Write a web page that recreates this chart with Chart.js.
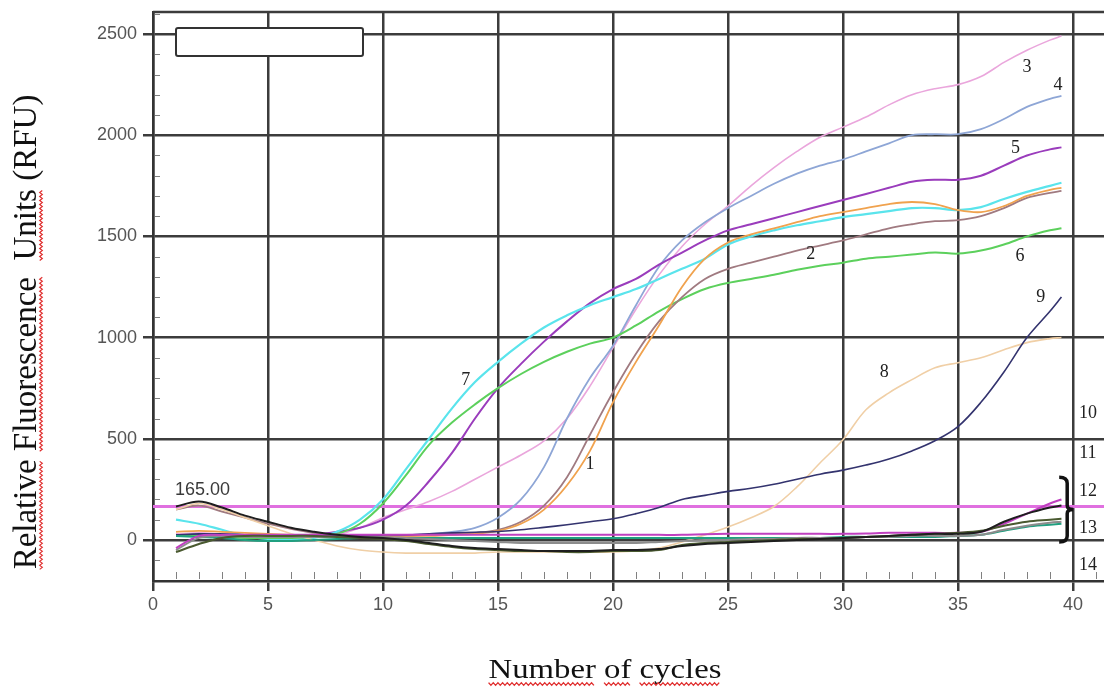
<!DOCTYPE html>
<html lang="en">
<head>
  <meta charset="UTF-8" />
  <title>Amplification curves (RFU vs cycles)</title>
  <script src="https://cdn.jsdelivr.net/npm/chart.js"></script>
  <style>
    body {
      margin: 0;
      background-color: #fff;
    }
    canvas#myChart {
      display: block;
    }
  </style>
</head>
<body>
  <canvas id="myChart" width="1104" height="691"></canvas>

  <script>
    // cycle numbers (x values), last reading ends a bit before 40
    const cycles = [1, 2, 3, 4, 5, 6, 7, 8, 9, 10, 11, 12, 13, 14, 15, 16, 17, 18, 19, 20,
      21, 22, 23, 24, 25, 26, 27, 28, 29, 30, 31, 32, 33, 34, 35, 36, 37, 38, 39, 39.5];

    // RFU, one array per curve
    const curve1 = [40, 45, 40, 35, 30, 25, 20, 20, 20, 20, 20, 20, 25, 30, 45, 80, 150, 270, 440, 680,
      880, 1060, 1250, 1390, 1470, 1510, 1540, 1570, 1600, 1620, 1640, 1660, 1670, 1660, 1630, 1620, 1650, 1700, 1730, 1740];
    const curve2 = [150, 170, 140, 110, 80, 55, 35, 25, 20, 20, 20, 25, 30, 35, 50, 90, 170, 310, 520, 730,
      920, 1080, 1200, 1290, 1340, 1370, 1400, 1430, 1455, 1480, 1510, 1540, 1560, 1575, 1580, 1600, 1640, 1690, 1715, 1725];
    const curve3 = [30, 35, 30, 25, 20, 20, 20, 25, 60, 110, 150, 190, 240, 300, 360, 420, 490, 600, 760, 950,
      1140, 1310, 1450, 1560, 1650, 1750, 1840, 1920, 1990, 2040, 2090, 2150, 2200, 2230, 2250, 2290, 2360, 2420, 2470, 2490];
    const curve4 = [20, 25, 25, 20, 20, 20, 20, 20, 20, 25, 25, 30, 40, 60, 110, 200, 360, 600, 800, 960,
      1160, 1350, 1480, 1570, 1640, 1700, 1760, 1810, 1850, 1880, 1920, 1960, 2000, 2005, 2005, 2030, 2080, 2140, 2180, 2195];
    const curve5 = [20, 25, 25, 20, 20, 20, 25, 40, 60, 100, 170, 290, 430, 600, 750, 870, 980, 1080, 1170, 1240,
      1290, 1360, 1420, 1480, 1530, 1560, 1590, 1620, 1650, 1680, 1710, 1740, 1770, 1780, 1780, 1800, 1850, 1900, 1930, 1940];
    const curve6 = [20, 20, 15, 10, 10, 10, 15, 30, 80, 180, 320, 470, 580, 670, 750, 820, 880, 930, 970, 1000,
      1060, 1130, 1190, 1240, 1270, 1290, 1310, 1335, 1355, 1370, 1390, 1400, 1410, 1420, 1415, 1430, 1460, 1500, 1530, 1540];
    const curve7 = [100, 80, 50, 20, 5, 0, 10, 40, 100, 200, 350, 500, 650, 780, 880, 970, 1050, 1110, 1160, 1200,
      1240, 1290, 1340, 1390, 1460, 1500, 1530, 1555, 1575, 1595, 1610, 1625, 1640, 1640, 1630, 1645, 1685, 1720, 1750, 1765];
    const curve8 = [150, 180, 150, 110, 70, 30, 0, -30, -50, -60, -65, -65, -65, -65, -60, -60, -60, -60, -60, -60,
      -55, -40, -10, 25, 64, 110, 165, 262, 380, 495, 643, 727, 792, 851, 876, 900, 940, 975, 995, 1000];
    const curve9 = [25, 30, 30, 25, 25, 20, 20, 20, 20, 25, 25, 30, 35, 38, 42, 50, 62, 75, 90, 105,
      130, 160, 200, 220, 240, 255, 275, 300, 325, 345, 370, 400, 440, 490, 560, 680, 830, 1000, 1130, 1200];
    const curve10 = [165, 190, 160, 120, 90, 60, 40, 25, 15, 10, 0, -15, -30, -40, -45, -50, -55, -55, -55, -50,
      -50, -45, -30, -20, -15, -10, -5, 0, 5, 10, 15, 20, 25, 30, 30, 40, 90, 130, 160, 170];
    const curve11 = [-40, 20, 25, 25, 25, 25, 25, 25, 25, 25, 25, 25, 25, 25, 25, 25, 25, 25, 25, 25,
      25, 25, 25, 28, 30, 30, 30, 30, 30, 30, 32, 35, 35, 35, 35, 40, 80, 130, 180, 200];
    const curve12 = [-50, 10, 20, 15, 15, 15, 15, 15, 15, 15, 10, 5, 0, -5, -10, -15, -15, -15, -15, -15,
      -15, -10, -5, 0, 0, 5, 5, 10, 10, 10, 15, 15, 20, 20, 20, 25, 50, 70, 85, 90];
    const curve13 = [20, 15, 10, 0, -5, -5, 0, 5, 10, 10, 10, 10, 10, 10, 10, 10, 10, 10, 10, 10,
      10, 10, 10, 10, 10, 10, 10, 10, 10, 15, 15, 15, 15, 15, 20, 25, 45, 65, 75, 80];
    const curve14 = [-60, -20, 10, 20, 20, 20, 20, 15, 10, 5, -5, -20, -35, -45, -50, -55, -55, -60, -60, -55,
      -55, -50, -25, -15, -10, -5, 0, 5, 5, 10, 15, 20, 25, 30, 35, 45, 70, 90, 100, 105];

    const threshold = 165;
    const xTicks = [0, 5, 10, 15, 20, 25, 30, 35, 40];
    const yTicks = [0, 500, 1000, 1500, 2000, 2500];

    const xTitle = 'Number of cycles';
    const yTitle = 'Relative Fluorescence  Units (RFU)';

    // curve numbers written next to the curves (data coordinates)
    const curveLabels = [
      { text: '3', x: 38.0, y: 2337 },
      { text: '4', x: 39.35, y: 2248 },
      { text: '5', x: 37.5, y: 1937 },
      { text: '2', x: 28.6, y: 1413 },
      { text: '6', x: 37.7, y: 1403 },
      { text: '9', x: 38.6, y: 1200 },
      { text: '7', x: 13.6, y: 790 },
      { text: '8', x: 31.8, y: 830 },
      { text: '1', x: 19.0, y: 375 },
      { text: '10', x: 40.65, y: 627 },
      { text: '11', x: 40.65, y: 430 },
      { text: '12', x: 40.65, y: 242 },
      { text: '13', x: 40.65, y: 59 },
      { text: '14', x: 40.65, y: -124 }
    ];

    const toPoints = vals => vals.map((v, i) => ({ x: cycles[i], y: v }));

    function line(data, color, width) {
      return {
        data: toPoints(data),
        borderColor: color,
        borderWidth: width || 1.6,
        pointRadius: 0,
        tension: 0.35,
        fill: false
      };
    }

    function squiggle(ctx, x0, x1, y) {
      ctx.beginPath();
      let i = 0;
      for (let x = x0; x <= x1; x += 2, i++) {
        const yy = y + (i % 2 ? 1.3 : -1.3);
        if (i === 0) ctx.moveTo(x, yy); else ctx.lineTo(x, yy);
      }
      ctx.stroke();
    }

    // small marks, top frame line
    const minorTicks = {
      id: 'minorTicks',
      beforeDatasetsDraw(chart) {
        const { ctx, chartArea: a, scales: { x, y } } = chart;
        ctx.save();
        ctx.strokeStyle = '#808080';
        ctx.lineWidth = 1;
        ctx.beginPath();
        for (let c = 1; c <= 41; c++) {
          if (c % 5 === 0) continue;
          const px = Math.round(x.getPixelForValue(c)) + 0.5;
          ctx.moveTo(px, a.bottom - 2);
          ctx.lineTo(px, a.bottom - 9);
        }
        for (let v = -100; v <= 2600; v += 100) {
          if (v % 500 === 0) continue;
          const py = Math.round(y.getPixelForValue(v)) + 0.5;
          ctx.moveTo(a.left + 2, py);
          ctx.lineTo(a.left + 7, py);
        }
        ctx.stroke();
        ctx.strokeStyle = '#3c3c3c';
        ctx.lineWidth = 2.5;
        ctx.beginPath();
        ctx.moveTo(a.left, a.top);
        ctx.lineTo(a.right, a.top);
        ctx.stroke();
        ctx.restore();
      }
    };

    // empty legend box, curve numbers, bracket, threshold value, axis titles
    const annotate = {
      id: 'annotate',
      afterDatasetsDraw(chart) {
        const { ctx, chartArea: a, scales: { x, y } } = chart;
        ctx.save();

        // legend placeholder
        ctx.fillStyle = '#fff';
        ctx.strokeStyle = '#333';
        ctx.lineWidth = 2;
        ctx.beginPath();
        ctx.roundRect(a.left + 23, a.top + 16, 187, 28, 2);
        ctx.fill();
        ctx.stroke();

        ctx.fillStyle = '#222';
        ctx.font = "18px 'Liberation Serif'";
        ctx.textAlign = 'center';
        ctx.textBaseline = 'middle';
        curveLabels.forEach(l => {
          ctx.fillText(l.text, x.getPixelForValue(l.x), y.getPixelForValue(l.y));
        });

        ctx.fillStyle = '#3a3a3a';
        ctx.font = "18px 'Liberation Sans'";
        ctx.textAlign = 'left';
        ctx.fillText(threshold.toFixed(2), x.getPixelForValue(0.96), y.getPixelForValue(247));

        // bracket grouping curves 12-13
        const bx = x.getPixelForValue(39.75);
        const bt = y.getPixelForValue(310);
        const bb = y.getPixelForValue(-10);
        const bm = (bt + bb) / 2;
        ctx.strokeStyle = '#111';
        ctx.lineWidth = 3.5;
        ctx.beginPath();
        ctx.moveTo(bx - 8, bt);
        ctx.quadraticCurveTo(bx, bt, bx, bt + 6);
        ctx.lineTo(bx, bm - 4);
        ctx.quadraticCurveTo(bx, bm, bx + 6, bm);
        ctx.quadraticCurveTo(bx, bm, bx, bm + 4);
        ctx.lineTo(bx, bb - 6);
        ctx.quadraticCurveTo(bx, bb, bx - 8, bb);
        ctx.stroke();

        // x title (slightly wide, as in the source picture)
        ctx.strokeStyle = '#e03030';
        ctx.lineWidth = 1.2;
        ctx.fillStyle = '#111';
        ctx.font = "28px 'Liberation Serif'";
        ctx.textBaseline = 'alphabetic';
        ctx.textAlign = 'left';
        ctx.save();
        ctx.translate(605, 678);
        ctx.scale(1.17, 1);
        const w = ctx.measureText(xTitle).width;
        ctx.fillText(xTitle, -w / 2, 0);
        let pos = -w / 2;
        xTitle.split(' ').forEach(word => {
          const ww = ctx.measureText(word).width;
          squiggle(ctx, pos, pos + ww, 6);
          pos += ww + ctx.measureText(' ').width;
        });
        ctx.restore();

        // y title
        ctx.save();
        ctx.translate(27, 332);
        ctx.rotate(-Math.PI / 2);
        ctx.font = "33px 'Liberation Serif'";
        ctx.textBaseline = 'middle';
        const yw = ctx.measureText(yTitle).width;
        ctx.fillText(yTitle, -yw / 2, 0);
        const words = ['Relative', 'Fluorescence', 'Units'];
        let from = 0;
        words.forEach(word => {
          const idx = yTitle.indexOf(word, from);
          const sx = -yw / 2 + ctx.measureText(yTitle.slice(0, idx)).width;
          squiggle(ctx, sx, sx + ctx.measureText(word).width, 14);
          from = idx + word.length;
        });
        ctx.restore();

        ctx.restore();
      }
    };

    const ctx = document.getElementById('myChart').getContext('2d');
    new Chart(ctx, {
      type: 'line',
      data: {
        datasets: [
          line(curve10, '#1e1e1e', 2),
          line(curve14, '#4a5a30', 2),
          line(curve11, '#c040c0', 2),
          line(curve12, '#8c8c8c', 2),
          line(curve13, '#20a080', 2),
          line(curve9, '#33336e', 1.6),
          line(curve8, '#f0cfa6', 1.6),
          line(curve1, '#f0a24e', 1.8),
          line(curve2, '#a07a80', 1.8),
          line(curve6, '#5cd05c', 2),
          line(curve7, '#5ae4ec', 2.2),
          line(curve5, '#9a3cbc', 2),
          line(curve4, '#8ea6d6', 1.8),
          line(curve3, '#eaa6dc', 1.6),
          {
            data: [{ x: 0, y: threshold }, { x: 41.35, y: threshold }],
            borderColor: '#e070e0',
            borderWidth: 3,
            pointRadius: 0
          }
        ]
      },
      options: {
        responsive: false,
        animation: false,
        layout: { padding: { top: 12, right: 0, left: 0, bottom: 0 } },
        scales: {
          x: {
            type: 'linear',
            min: 0,
            max: 41.35,
            afterFit(scale) {
              scale.height = 110;
              scale.paddingLeft = 0;
              scale.paddingRight = 0;
            },
            afterBuildTicks(scale) { scale.ticks = xTicks.map(v => ({ value: v })); },
            ticks: {
              color: '#555',
              padding: 3,
              maxRotation: 0,
              font: { family: 'Liberation Sans', size: 18 },
              callback: v => String(v)
            },
            grid: { color: '#3c3c3c', lineWidth: 2.5, tickLength: 10, tickColor: '#3c3c3c' },
            border: { color: '#333', width: 2.5 }
          },
          y: {
            min: -203,
            max: 2609,
            afterFit(scale) {
              scale.width = 153;
              scale.paddingTop = 0;
              scale.paddingBottom = 0;
            },
            afterBuildTicks(scale) { scale.ticks = yTicks.map(v => ({ value: v })); },
            ticks: {
              color: '#555',
              padding: 6,
              font: { family: 'Liberation Sans', size: 18 },
              callback: v => String(v)
            },
            grid: { color: '#3c3c3c', lineWidth: 2.5, tickLength: 10, tickColor: '#3c3c3c' },
            border: { color: '#333', width: 2.5 }
          }
        },
        plugins: {
          legend: { display: false },
          tooltip: { enabled: false }
        }
      },
      plugins: [minorTicks, annotate]
    });
  </script>
</body>
</html>
